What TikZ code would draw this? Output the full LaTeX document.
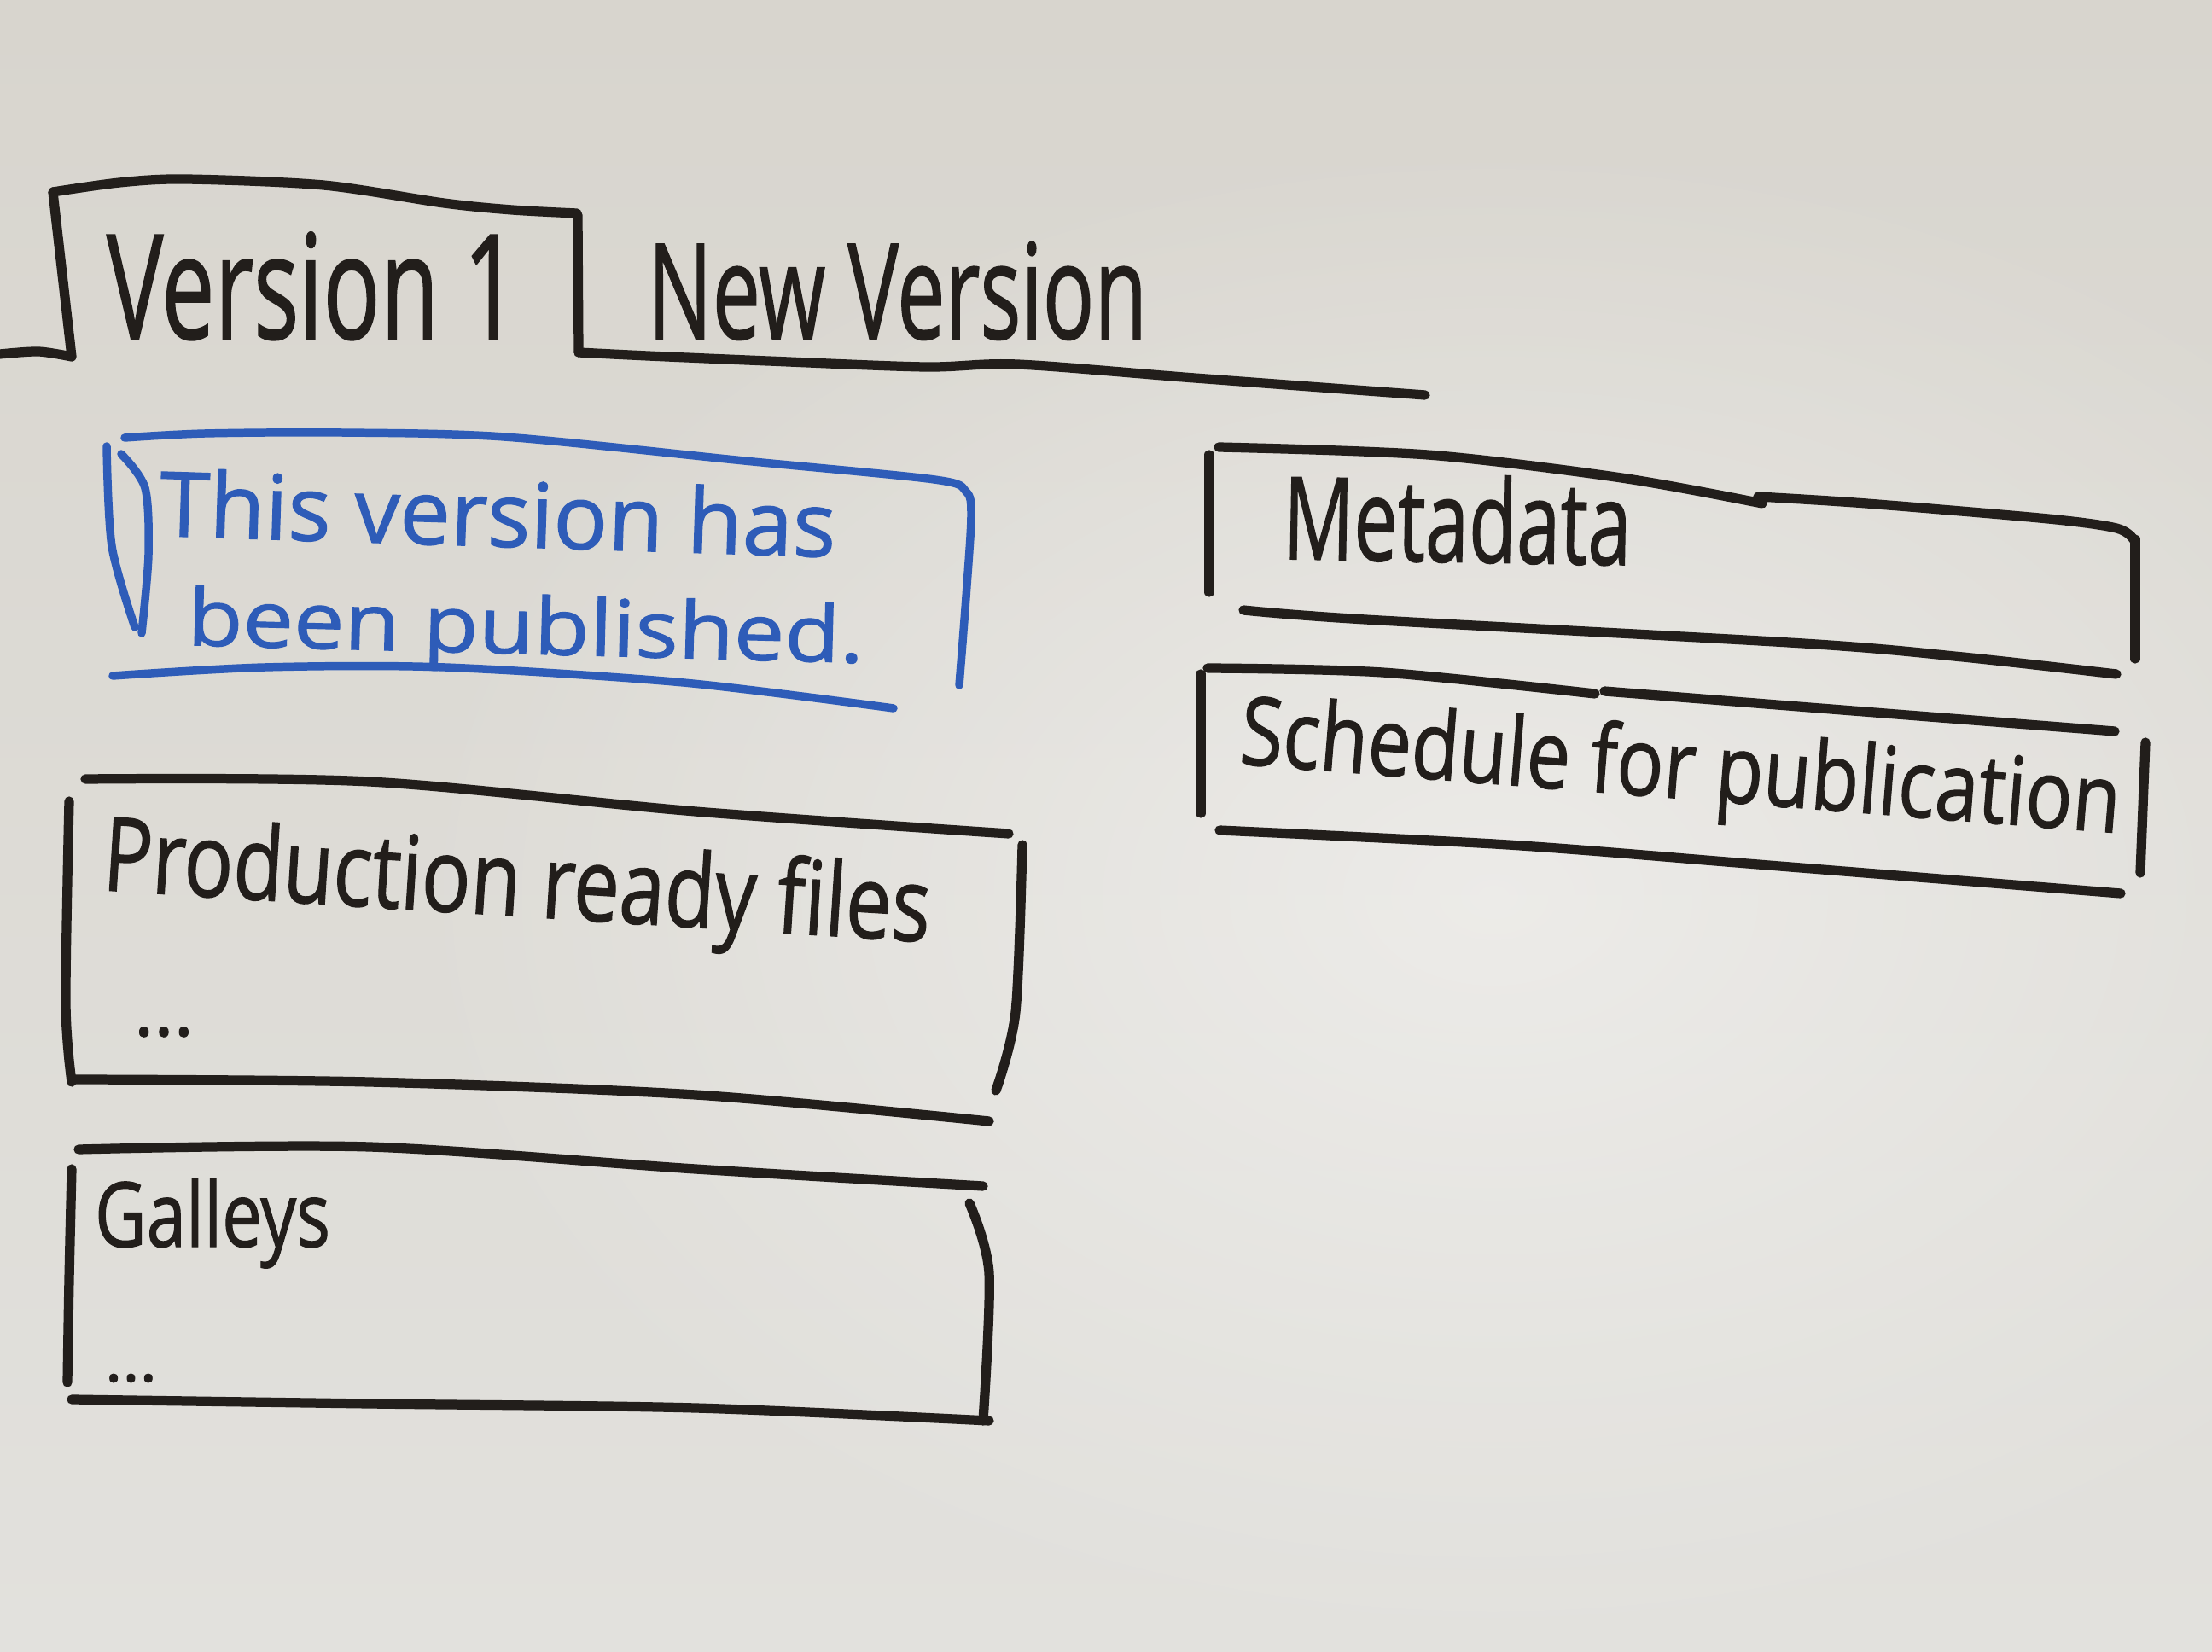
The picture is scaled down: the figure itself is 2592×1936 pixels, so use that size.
\documentclass[tikz,border=0pt]{standalone}
\usepackage{fontspec}
\setmainfont{Open Sans}[FakeBold=1.2]
\usepackage{graphicx}
\usetikzlibrary{fadings}
\tikzfading[name=boardglow, inner color=transparent!0, outer color=transparent!100]
\definecolor{bgtop}{HTML}{D8D5CE}
\definecolor{bgmid}{HTML}{E6E5E1}
\definecolor{bgbot}{HTML}{E2E1DD}
\definecolor{inkc}{HTML}{221E1B}
\definecolor{bluec}{HTML}{2E5CB8}
% scaled handwriting: width, height (mm), text
\newcommand{\hw}[3]{\resizebox{#1}{#2}{#3}}
\begin{document}
\begin{tikzpicture}[x=0.1mm,y=-0.1mm,
  ink/.style={draw=inkc, line width=3.2pt, line cap=round, line join=round},
  blueink/.style={draw=bluec, line width=2.7pt, line cap=round, line join=round},
  label/.style={inner sep=0pt, outer sep=0pt, anchor=base west, text=inkc},
  bluelabel/.style={label, text=bluec}]
  % whiteboard
  \useasboundingbox (0,0) rectangle (2592,1936);
  \shade[top color=bgtop, middle color=bgmid, bottom color=bgbot] (0,0) rectangle (2592,1936);
  \fill[white, opacity=0.45, path fading=boardglow] (1750,1050) ellipse (1300 and 900);

  % tab strip
  \draw[ink] plot[smooth, tension=0.5] coordinates {(0,415) (45,412) (84,418)};
  \draw[ink] (84,418) -- (62,225);
  \draw[ink] plot[smooth, tension=0.5] coordinates {(62,225) (140,214) (217,210) (379,217) (520,238) (600,246) (676,250)};
  \draw[ink] (677,252) -- (678,413);
  \draw[ink] plot[smooth, tension=0.5] coordinates {(678,413) (759,417) (900,423) (1084,430) (1192,427) (1400,443) (1670,463)};
  \node[label] (v1) at (125,397) {\hw{48.2mm}{12.5mm}{Version 1}};
  \node[label] (nv) at (759,397) {\hw{58.5mm}{11.4mm}{New Version}};

  % published notice
  \draw[blueink] plot[smooth, tension=0.5] coordinates {(146,513) (240,508) (400,507) (591,512) (872,540) (1095,562) (1132,576) (1138,605) (1132,700) (1124,803)};
  \draw[blueink] plot[smooth, tension=0.5] coordinates {(132,792) (310,782) (521,782) (801,800) (1047,830)};
  \draw[blueink] plot[smooth, tension=0.5] coordinates {(125,523) (131,640) (158,735)};
  \draw[blueink] plot[smooth, tension=0.5] coordinates {(142,532) (170,572) (174,650) (166,742)};
  \node[bluelabel, rotate=-1.8] (pub1) at (186,628) {\hw{79.3mm}{8.0mm}{This version has}};
  \node[bluelabel, rotate=-1.5] (pub2) at (219,756) {\hw{79.3mm}{7.0mm}{been published.}};

  % production ready files
  \draw[ink] plot[smooth, tension=0.5] coordinates {(100,913) (433,916) (815,951) (1182,977)};
  \draw[ink] plot[smooth, tension=0.5] coordinates {(81,939) (77,1176) (84,1268)};
  \draw[ink] plot[smooth, tension=0.5] coordinates {(84,1265) (433,1268) (815,1283) (1159,1314)};
  \draw[ink] plot[smooth, tension=0.5] coordinates {(1198,990) (1190,1186) (1167,1278)};
  \node[label, rotate=-3.6] (prod) at (119,1043) {\hw{97.1mm}{9.2mm}{Production ready files}};
  \node[label] (prodmore) at (157,1214) {\hw{7.0mm}{!}{...}};

  % galleys
  \draw[ink] plot[smooth, tension=0.5] coordinates {(92,1347) (433,1344) (815,1370) (1152,1390)};
  \draw[ink] plot[smooth, tension=0.5] coordinates {(84,1370) (81,1500) (79,1620)};
  \draw[ink] plot[smooth, tension=0.5] coordinates {(84,1640) (433,1645) (815,1650) (1159,1665)};
  \draw[ink] plot[smooth, tension=0.5] coordinates {(1136,1410) (1159,1492) (1152,1665)};
  \node[label] (gal) at (111,1461) {\hw{27.6mm}{8.0mm}{Galleys}};
  \node[label] (galmore) at (123,1619) {\hw{6.1mm}{!}{...}};

  % metadata
  \draw[ink] (1417,533) -- (1417,694);
  \draw[ink] plot[smooth, tension=0.5] coordinates {(1428,524) (1673,533) (1900,560) (2065,590)};
  \draw[ink] plot[smooth, tension=0.5] coordinates {(2060,582) (2187,590) (2400,608) (2480,619) (2500,632)};
  \draw[ink] (2502,632) -- (2502,772);
  \draw[ink] plot[smooth, tension=0.5] coordinates {(1457,715) (1600,726) (2113,754) (2300,770) (2480,790)};
  \node[label, rotate=-1] (meta) at (1503,655) {\hw{40.8mm}{10.2mm}{Metadata}};

  % schedule for publication
  \draw[ink] plot[smooth, tension=0.5] coordinates {(1415,783) (1620,788) (1869,813)};
  \draw[ink] plot[smooth, tension=0.5] coordinates {(1880,810) (2133,830) (2478,857)};
  \draw[ink] (1407,790) -- (1407,953);
  \draw[ink] plot[smooth, tension=0.5] coordinates {(1429,973) (1767,990) (2060,1013) (2485,1047)};
  \draw[ink] (2514,870) -- (2508,1023);
  \node[label, rotate=-4.5] (sched) at (1451,895) {\hw{103.4mm}{8.5mm}{Schedule for publication}};
\end{tikzpicture}
\end{document}
